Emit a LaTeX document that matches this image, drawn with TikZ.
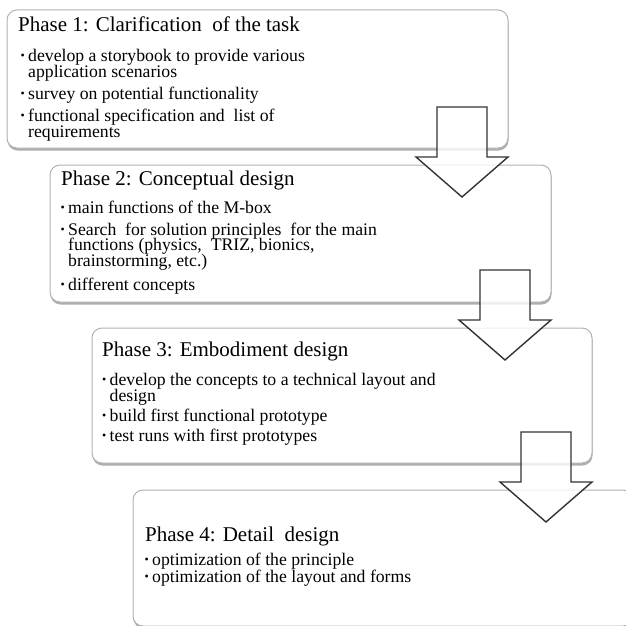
\documentclass[tikz,border=0pt]{standalone}
\usepackage{fontspec}
\setmainfont{Liberation Serif}
\usetikzlibrary{calc,shadows}

\tikzset{
  phasebox/.style={draw=black!30, fill=white, rounded corners=10pt, line width=1pt,
    minimum width=500pt, minimum height=136pt, anchor=north west, inner sep=0pt, outer sep=0pt,
    drop shadow={shadow xshift=0.5pt, shadow yshift=-2.5pt, opacity=0.45, fill=black!70}},
  phasetitle/.style={anchor=base west, inner sep=0pt, font=\fontsize{21}{21}\selectfont},
  itemline/.style={anchor=base west, inner sep=0pt, font=\fontsize{17.7}{16}\selectfont},
  itemdot/.style={anchor=base west, inner sep=0pt, font=\fontsize{12}{12}\selectfont},
  blockarrow/.style={draw=black!80, line width=1.4pt, fill=white, fill opacity=0.8},
}

\begin{document}
\begin{tikzpicture}[x=1pt, y=-1pt]

 \useasboundingbox (0,0) rectangle (625,626);

 %%%%%%%%%% Phase boxes %%%%%%%%%%
 \node[phasebox, minimum width=501pt, minimum height=138pt] (p1) at (7,10) {};
 \node[phasebox, minimum width=501pt, minimum height=137pt] (p2) at (50,165) {};
 \node[phasebox, minimum height=135pt] (p3) at (92,328) {};
 \node[phasebox, minimum height=136pt] (p4) at (133,490) {};

 %%%%%%%%%% Titles %%%%%%%%%%
 \node[phasetitle] (t1) at (18,31.7) {Phase 1: Clarification\ \ of the task};
 \node[phasetitle] (t2) at (61,185) {Phase 2: Conceptual design};
 \node[phasetitle] (t3) at (102,356.7) {Phase 3: Embodiment design};
 \node[phasetitle] (t4) at (145,541.7) {Phase 4: Detail\ \ design};

 %%%%%%%%%% Bullet points %%%%%%%%%%
 \foreach \name/\x/\y in {d11/20.5/59.7, d12/20.5/97.5, d13/20.5/119,
                          d21/60.5/211.5, d22/60.5/233, d23/60.5/288,
                          d31/102/383, d32/102/419, d33/102/439,
                          d41/144.5/563, d42/144.5/580}
 {
   \node[itemdot] (\name) at (\x,\y) {•};
 }

 %%%%%%%%%% Item lines %%%%%%%%%%
 \node[itemline] (l11) at (28,61.7) {develop a storybook to provide various};
 \node[itemline] (l12) at (28,77.5) {application scenarios};
 \node[itemline] (l13) at (28,99.5) {survey on potential functionality};
 \node[itemline] (l14) at (28,121) {functional specification and\ \ list of};
 \node[itemline] (l15) at (28,137) {requirements};

 \node[itemline] (l21) at (68,213.5) {main functions of the M-box};
 \node[itemline] (l22) at (68,235) {Search\ \ for solution principles\ \ for the main};
 \node[itemline] (l23) at (68,250.5) {functions (physics,\ \ TRIZ, bionics,};
 \node[itemline] (l24) at (68,266) {brainstorming, etc.)};
 \node[itemline] (l25) at (68,290) {different concepts};

 \node[itemline] (l31) at (109.5,385) {develop the concepts to a technical layout and};
 \node[itemline] (l32) at (109.5,401) {design};
 \node[itemline] (l33) at (109.5,421) {build first functional prototype};
 \node[itemline] (l34) at (109.5,441) {test runs with first prototypes};

 \node[itemline] (l41) at (152,565) {optimization of the principle};
 \node[itemline] (l42) at (152,582) {optimization of the layout and forms};

 %%%%%%%%%% Arrows between phases %%%%%%%%%%
 \coordinate (a1) at ($(p1.east |- p2.north)+(-46,-58)$);
 \coordinate (a2) at ($(p2.east |- p3.north)+(-46,-58)$);
 \coordinate (a3) at ($(p3.east |- p4.north)+(-46,-58)$);
 \foreach \a in {a1,a2,a3}
 {
   \draw[blockarrow] (\a) ++(-25,0) -- ++(50,0) -- ++(0,50) -- ++(21,0)
     -- ++(-46,40) -- ++(-46,-40) -- ++(21,0) -- cycle;
 }

\end{tikzpicture}
\end{document}
